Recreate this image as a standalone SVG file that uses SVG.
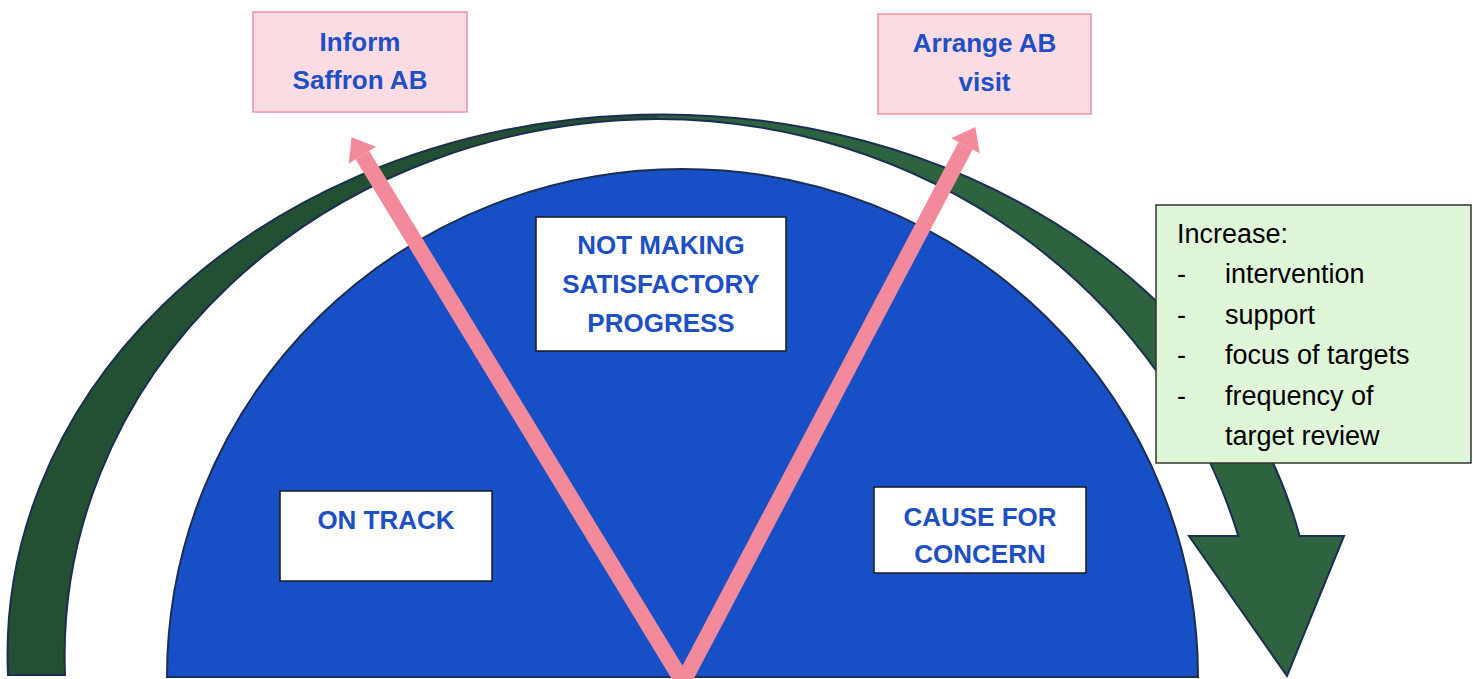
<svg xmlns="http://www.w3.org/2000/svg" width="1473" height="679" viewBox="0 0 1473 679">
<style>
.title{font-family:"Liberation Sans",Arial,sans-serif;font-weight:bold;font-size:26px;fill:#1d4fc6;text-anchor:middle}
.pinkbox{fill:#fcdce2;stroke:#f28fa0;stroke-width:1.5}
.whitebox{fill:#ffffff;stroke:#1a1a1a;stroke-width:1.5}
.note{font-family:"Liberation Sans",Arial,sans-serif;font-size:27px;fill:#000000}
.arrow{fill:none;stroke:#f28a9b;stroke-width:16;stroke-linejoin:miter;stroke-miterlimit:6}
</style>
<defs>
<linearGradient id="greenGrad" gradientUnits="userSpaceOnUse" x1="0" y1="0" x2="1473" y2="0">
<stop offset="0" stop-color="#235033"/>
<stop offset="0.447" stop-color="#235033"/>
<stop offset="0.447" stop-color="#2e6340"/>
<stop offset="1" stop-color="#2e6340"/>
</linearGradient>
<marker id="head" markerUnits="userSpaceOnUse" markerWidth="40" markerHeight="40" refX="0" refY="0" viewBox="-2 -20 40 40" orient="auto-start-reverse" overflow="visible">
<path d="M0,-16 L21,0 L0,16 Z" fill="#f28a9b"/>
</marker>
</defs>

<g id="green-arc">
<path fill="url(#greenGrad)" stroke="#1c2e52" stroke-width="2" stroke-linejoin="miter" d="M8,675 A654,540 0 0 1 1299.6,536 L1344,536 L1287,676 L1189,536 L1238.3,536 A606,581 0 0 0 657,119 A597,537 0 0 0 65,675 Z"/>
</g>

<g id="blue-half">
<path fill="#1750c6" stroke="#1c2e52" stroke-width="2" d="M167,677 A515.5,508 0 0 1 1198,677 Z"/>
</g>

<g id="node-not-making">
<rect class="whitebox" x="536" y="217" width="250" height="134"/>
<text class="title" x="661" y="254">NOT MAKING</text>
<text class="title" x="661" y="293">SATISFACTORY</text>
<text class="title" x="661" y="332">PROGRESS</text>
</g>

<g id="node-on-track">
<rect class="whitebox" x="280" y="491" width="212" height="90"/>
<text class="title" x="386" y="529">ON TRACK</text>
</g>

<g id="node-cause">
<rect class="whitebox" x="874" y="487" width="212" height="86"/>
<text class="title" x="980" y="526">CAUSE FOR</text>
<text class="title" x="980" y="563">CONCERN</text>
</g>

<g id="connectors">
<path class="arrow" d="M362.4,155.1 L683,682 L965.6,145.7" marker-start="url(#head)" marker-end="url(#head)"/>
</g>

<g id="node-inform">
<rect class="pinkbox" x="253" y="12" width="214" height="100"/>
<text class="title" x="360" y="51">Inform</text>
<text class="title" x="360" y="89">Saffron AB</text>
</g>

<g id="node-arrange">
<rect class="pinkbox" x="878" y="14" width="213" height="100"/>
<text class="title" x="984.5" y="52">Arrange AB</text>
<text class="title" x="984.5" y="91">visit</text>
</g>

<g id="node-increase">
<rect x="1156" y="205" width="315" height="258" fill="#dff5d8" stroke="#333333" stroke-width="1.5"/>
<text class="note" x="1177" y="243">Increase:</text>
<text class="note" x="1177" y="283">-</text>
<text class="note" x="1225" y="283">intervention</text>
<text class="note" x="1177" y="324">-</text>
<text class="note" x="1225" y="324">support</text>
<text class="note" x="1177" y="364">-</text>
<text class="note" x="1225" y="364">focus of targets</text>
<text class="note" x="1177" y="405">-</text>
<text class="note" x="1225" y="405">frequency of</text>
<text class="note" x="1225" y="445">target review</text>
</g>
</svg>
